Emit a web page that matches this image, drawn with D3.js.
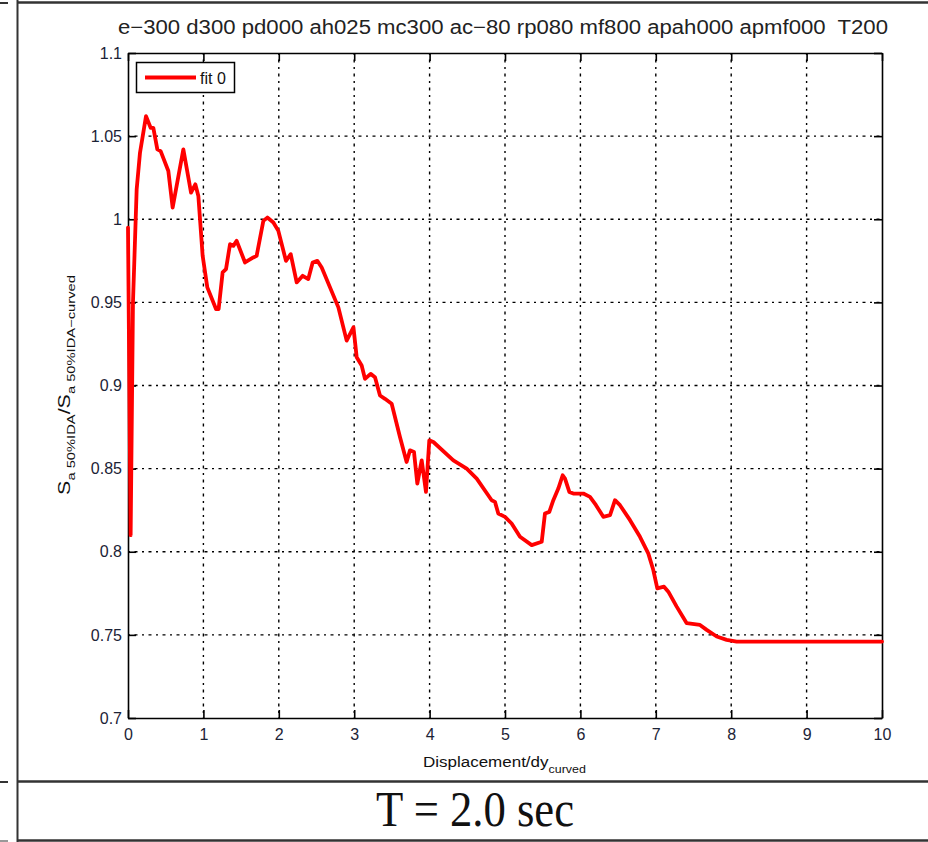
<!DOCTYPE html>
<html><head><meta charset="utf-8">
<script src="https://cdn.jsdelivr.net/npm/d3@7"></script>
<style>
html,body{margin:0;padding:0;background:#fff;}
svg{display:block;}
text{font-family:"Liberation Sans",Arial,Helvetica,sans-serif;}
</style></head>
<body>
<svg id="chart" width="928" height="842"></svg>
<script>
// ---- data ----
const titleText = "e\u2212300 d300 pd000 ah025 mc300 ac\u221280 rp080 mf800 apah000 apmf000  T200";
const seriesName = "fit 0";
const periodLabel = "T = 2.0 sec";
const xTicks = [0,1,2,3,4,5,6,7,8,9,10];
const yTicks = [0.7,0.75,0.8,0.85,0.9,0.95,1,1.05,1.1];
const yTickLabels = ["0.7","0.75","0.8","0.85","0.9","0.95","1","1.05","1.1"];
const dispX = [0,0.035,0.066,0.115,0.159,0.239,0.30,0.336,0.389,0.433,0.535,0.592,0.734,0.836,0.893,0.933,0.99,1.052,1.167,1.202,1.255,1.30,1.353,1.397,1.441,1.552,1.662,1.706,1.795,1.848,1.928,1.994,2.095,2.158,2.237,2.317,2.391,2.449,2.511,2.569,2.79,2.90,2.99,3.033,3.099,3.143,3.218,3.276,3.342,3.408,3.497,3.607,3.695,3.74,3.793,3.837,3.895,3.952,3.996,4.05,4.315,4.492,4.625,4.823,4.867,4.911,5.0,5.088,5.199,5.354,5.487,5.53,5.588,5.641,5.707,5.765,5.796,5.853,5.906,6.039,6.127,6.207,6.304,6.393,6.459,6.525,6.658,6.79,6.9,6.967,7.02,7.109,7.166,7.277,7.41,7.586,7.675,7.808,7.94,8.073,8.5,9,9.5,10];
const ratio = [0.995,0.810,0.950,1.018,1.040,1.062,1.055,1.055,1.042,1.041,1.029,1.007,1.042,1.016,1.021,1.014,0.978,0.959,0.946,0.946,0.968,0.970,0.985,0.984,0.987,0.974,0.977,0.978,0.999,1.001,0.998,0.993,0.975,0.979,0.962,0.966,0.964,0.974,0.975,0.971,0.947,0.927,0.935,0.917,0.912,0.904,0.907,0.905,0.894,0.892,0.889,0.869,0.854,0.861,0.860,0.841,0.855,0.836,0.867,0.866,0.855,0.850,0.844,0.831,0.830,0.823,0.821,0.817,0.809,0.804,0.806,0.823,0.824,0.831,0.838,0.846,0.844,0.836,0.835,0.835,0.833,0.828,0.821,0.822,0.831,0.828,0.819,0.809,0.799,0.789,0.778,0.779,0.776,0.767,0.757,0.756,0.753,0.749,0.747,0.746,0.746,0.746,0.746,0.746];

// ---- layout ----
const svg = d3.select("#chart");
const L = 128, R = 882, T = 53, B = 718;
const x = d3.scaleLinear().domain([0,10]).range([L,R]);
const y = d3.scaleLinear().domain([0.7,1.1]).range([B,T]);
const tickCol = "#1c2336";

// page frame
const frame = svg.append("g").attr("stroke","#333").attr("fill","none");
frame.append("line").attr("x1",17.5).attr("x2",17.5).attr("y1",0).attr("y2",842).attr("stroke-width",2);
frame.append("line").attr("x1",17).attr("x2",928).attr("y1",2.5).attr("y2",2.5).attr("stroke-width",2.5);
frame.append("line").attr("x1",17).attr("x2",928).attr("y1",781.5).attr("y2",781.5).attr("stroke-width",2.5);
frame.append("line").attr("x1",17).attr("x2",928).attr("y1",840.5).attr("y2",840.5).attr("stroke-width",2.5);
frame.append("line").attr("x1",0).attr("x2",8).attr("y1",3).attr("y2",3).attr("stroke-width",2);
frame.append("line").attr("x1",0).attr("x2",8).attr("y1",782).attr("y2",782).attr("stroke-width",2);
frame.append("line").attr("x1",0).attr("x2",8).attr("y1",841).attr("y2",841).attr("stroke-width",2).attr("stroke","#999");

// grid
const grid = svg.append("g").attr("stroke","#000").attr("stroke-width",1.4).attr("stroke-dasharray","2,4.5,3,4.5");
grid.selectAll(".gx").data(xTicks.slice(1,-1)).enter().append("line")
  .attr("x1",d=>x(d)).attr("x2",d=>x(d)).attr("y1",T).attr("y2",B);
grid.selectAll(".gy").data(yTicks.slice(1,-1)).enter().append("line")
  .attr("y1",d=>y(d)).attr("y2",d=>y(d)).attr("x1",L).attr("x2",R);

// axes
function styleAxis(g){
  g.selectAll("path").attr("stroke","#000").attr("stroke-width",1.6);
  g.selectAll("line").attr("stroke","#000").attr("stroke-width",1.6);
  g.selectAll("text").attr("fill",tickCol).style("font-size","16px");
}
const xAxis = svg.append("g").attr("transform",`translate(0,${B})`)
  .call(d3.axisBottom(x).tickValues(xTicks).tickSizeInner(-8).tickSizeOuter(0).tickPadding(11).tickFormat(d3.format("d")));
styleAxis(xAxis);
const xTop = svg.append("g").attr("transform",`translate(0,${T})`)
  .call(d3.axisTop(x).tickValues(xTicks).tickSizeInner(-8).tickSizeOuter(0).tickFormat(""));
styleAxis(xTop);
const yAxis = svg.append("g").attr("transform",`translate(${L},0)`)
  .call(d3.axisLeft(y).tickValues(yTicks).tickSizeInner(-8).tickSizeOuter(0).tickPadding(6).tickFormat((d,i)=>yTickLabels[i]));
styleAxis(yAxis);
const yRight = svg.append("g").attr("transform",`translate(${R},0)`)
  .call(d3.axisRight(y).tickValues(yTicks).tickSizeInner(-8).tickSizeOuter(0).tickFormat(""));
styleAxis(yRight);

// curve
const pts = dispX.map((d,i)=>[d,ratio[i]]);
svg.append("path").datum(pts)
  .attr("fill","none").attr("stroke","#ff0000").attr("stroke-width",3.8)
  .attr("stroke-linejoin","round").attr("stroke-linecap","round")
  .attr("d",d3.line().x(d=>x(d[0])).y(d=>y(d[1])));

// legend
const lg = svg.append("g");
lg.append("rect").attr("x",136.5).attr("y",62.5).attr("width",98).attr("height",30)
  .attr("fill","#fff").attr("stroke","#000").attr("stroke-width",1.5);
lg.append("line").attr("x1",145).attr("x2",196).attr("y1",77.5).attr("y2",77.5)
  .attr("stroke","#ff0000").attr("stroke-width",4);
lg.append("text").attr("x",200).attr("y",83.5).style("font-size","16px").attr("fill","#111").text(seriesName);

// title
svg.append("text").attr("x",118).attr("y",34).style("font-size","20px").style("white-space","pre")
  .attr("xml:space","preserve").attr("fill","#222")
  .attr("textLength",770).attr("lengthAdjust","spacingAndGlyphs").text(titleText);

// x label
const xl = svg.append("text").attr("x",423).attr("y",767).attr("fill","#111").style("font-size","15px");
xl.append("tspan").text("Displacement/dy");
xl.append("tspan").attr("dy",6).style("font-size","11px").text("curved");
{
  const w = xl.node().getComputedTextLength();
  const k = 163 / w;
  xl.attr("transform",`translate(423,0) scale(${k},1) translate(-423,0)`);
}

// y label
const yg = svg.append("g").attr("transform","translate(70,385) rotate(-90)");
const ylt = yg.append("text").attr("x",0).attr("y",0).attr("fill","#111").style("font-size","16px").attr("text-anchor","middle");
ylt.append("tspan").text("S");
ylt.append("tspan").attr("dy",5).style("font-size","11px").text("a 50%IDA");
ylt.append("tspan").attr("dy",-5).text("/S");
ylt.append("tspan").attr("dy",5).style("font-size","11px").text("a 50%IDA\u2212curved");
{
  const w = ylt.node().getComputedTextLength();
  const k = 220 / w;
  ylt.attr("transform",`scale(${k},1)`);
}

// period label
svg.append("text").attr("x",475).attr("y",826).attr("text-anchor","middle")
  .style("font-family","'Liberation Serif','Times New Roman',serif").style("font-size","50px").attr("fill","#111")
  .attr("textLength",198).attr("lengthAdjust","spacingAndGlyphs").text(periodLabel);
</script>
</body></html>
